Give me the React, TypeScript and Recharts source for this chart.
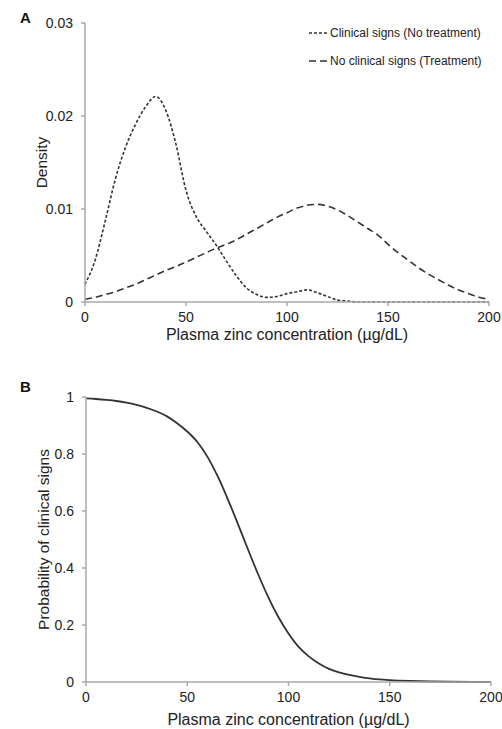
import { Legend, Line, LineChart, XAxis, YAxis } from "recharts";

// Panel A: density of plasma zinc (step 5 µg/dL)
const zincA = [
  0, 5, 10, 15, 20, 25, 30, 35, 40, 45, 50, 55, 60, 65, 70, 75, 80, 85, 90, 95,
  100, 105, 110, 115, 120, 125, 130, 135, 140, 145, 150, 155, 160, 165, 170,
  175, 180, 185, 190, 195, 200,
];
const clinicalSigns = [
  0.0019, 0.0045, 0.0087, 0.0132, 0.0166, 0.0191, 0.021, 0.0221, 0.0206,
  0.017, 0.012, 0.0092, 0.0076, 0.0061, 0.0044, 0.0028, 0.0015, 0.0008,
  0.0005, 0.0006, 0.0009, 0.0011, 0.0013, 0.001, 0.0006, 0.0002, 0.0001, 0, 0,
  0, 0, 0, 0, 0, 0, 0, 0, 0, 0, 0, 0,
];
const noClinicalSigns = [
  0.0003, 0.0005, 0.0008, 0.0011, 0.0015, 0.0019, 0.0024, 0.0029, 0.0034,
  0.0038, 0.0043, 0.0048, 0.0053, 0.0058, 0.0062, 0.0067, 0.0073, 0.0079,
  0.0085, 0.0091, 0.0096, 0.0101, 0.0104, 0.0105, 0.0103, 0.0099, 0.0093,
  0.0086, 0.0079, 0.0072, 0.0062, 0.0053, 0.0045, 0.0037, 0.003, 0.0024,
  0.0018, 0.0013, 0.0009, 0.0005, 0.0003,
];

// Panel B: probability of clinical signs
const zincB = [
  0, 5, 10, 15, 20, 25, 30, 35, 40, 45, 50, 55, 60, 65, 70, 75, 80, 85, 90, 95,
  100, 105, 110, 115, 120, 125, 130, 135, 140, 145, 150, 160, 170, 180, 190,
  200,
];
const probability = [
  0.995, 0.993, 0.99, 0.986, 0.98, 0.972, 0.962, 0.949, 0.932, 0.908, 0.879,
  0.842, 0.79, 0.722, 0.642, 0.555, 0.465, 0.378, 0.298, 0.228, 0.17, 0.123,
  0.09, 0.065, 0.046, 0.034, 0.025, 0.018, 0.013, 0.009, 0.0065, 0.0035,
  0.0018, 0.0009, 0.0004, 0.0002,
];

const xTicks = [0, 50, 100, 150, 200];
const densityTicks = [0, 0.01, 0.02, 0.03];
const probTicks = [0, 0.2, 0.4, 0.6, 0.8, 1];

const seriesA = [
  { key: "clinical", name: "Clinical signs (No treatment)", dash: "3 2" },
  { key: "noClinical", name: "No clinical signs (Treatment)", dash: "7 4" },
];

const dataA = zincA.map((zinc, i) => ({
  zinc,
  clinical: clinicalSigns[i],
  noClinical: noClinicalSigns[i],
}));
const dataB = zincB.map((zinc, i) => ({ zinc, prob: probability[i] }));

const FONT = "'Liberation Sans', Arial, sans-serif";
const INK = "#222";
const AXIS = "#aaa";
const LINE = "#333";

const tickStyle = { fontSize: 14, fill: INK, fontFamily: FONT };

function yTitle(text: string, x: number) {
  return ({ viewBox }: any) => {
    const cy = viewBox.y + viewBox.height / 2;
    return (
      <text
        x={x}
        y={cy}
        transform={`rotate(-90, ${x}, ${cy})`}
        textAnchor="middle"
        dominantBaseline="central"
        fontSize={15.5}
        fill={INK}
        fontFamily={FONT}
      >
        {text}
      </text>
    );
  };
}

function xTitle(text: string, dy: number) {
  return ({ viewBox }: any) => (
    <text
      x={viewBox.x + viewBox.width / 2}
      y={viewBox.y + dy}
      textAnchor="middle"
      dominantBaseline="central"
      fontSize={16}
      fill={INK}
      fontFamily={FONT}
    >
      {text}
    </text>
  );
}

function DensityLegend() {
  return (
    <div style={{ fontFamily: FONT, fontSize: 12, color: INK }}>
      {seriesA.map((s, i) => (
        <div
          key={s.key}
          style={{
            display: "flex",
            alignItems: "center",
            height: 14,
            marginTop: i === 0 ? 0 : 14,
            whiteSpace: "nowrap",
          }}
        >
          <svg width={19} height={6} style={{ marginRight: 2 }}>
            <line
              x1={0}
              y1={3}
              x2={19}
              y2={3}
              stroke={LINE}
              strokeWidth={1.5}
              strokeDasharray={s.dash}
            />
          </svg>
          <span>{s.name}</span>
        </div>
      ))}
    </div>
  );
}

const panelLetter = (top: number): React.CSSProperties => ({
  position: "absolute",
  left: 20,
  top,
  fontFamily: FONT,
  fontWeight: "bold",
  fontSize: 15,
  color: "#111",
});

export default function App() {
  return (
    <div
      style={{
        position: "absolute",
        left: 0,
        top: 0,
        width: 502,
        height: 729,
        background: "#fff",
      }}
    >
      <div style={panelLetter(9)}>A</div>
      <div style={panelLetter(378)}>B</div>

      <div style={{ position: "absolute", left: 0, top: 0 }}>
        <LineChart
          width={502}
          height={365}
          data={dataA}
          margin={{ top: 23, right: 13, left: 25, bottom: 0 }}
        >
          <XAxis
            dataKey="zinc"
            type="number"
            domain={[0, 200]}
            ticks={xTicks}
            height={63}
            tickSize={4}
            tickMargin={6}
            tick={tickStyle}
            stroke={AXIS}
            strokeWidth={1.5}
            interval={0}
            label={{ content: xTitle("Plasma zinc concentration (µg/dL)", 32) }}
          />
          <YAxis
            type="number"
            domain={[0, 0.03]}
            ticks={densityTicks}
            width={60}
            tickSize={4}
            tickMargin={8}
            tick={tickStyle}
            stroke={AXIS}
            strokeWidth={1.5}
            interval={0}
            label={{ content: yTitle("Density", 41) }}
          />
          <Legend
            layout="vertical"
            align="center"
            verticalAlign="middle"
            content={() => <DensityLegend />}
            wrapperStyle={{ position: "absolute", left: 309, top: 26, width: 193 }}
          />
          {seriesA.map((s) => (
            <Line
              key={s.key}
              type="monotone"
              dataKey={s.key}
              name={s.name}
              stroke={LINE}
              strokeWidth={1.6}
              strokeDasharray={s.dash}
              dot={false}
              isAnimationActive={false}
            />
          ))}
        </LineChart>
      </div>

      <div style={{ position: "absolute", left: 0, top: 370 }}>
        <LineChart
          width={502}
          height={359}
          data={dataB}
          margin={{ top: 27, right: 11, left: 26, bottom: 0 }}
        >
          <XAxis
            dataKey="zinc"
            type="number"
            domain={[0, 200]}
            ticks={xTicks}
            height={47}
            tickSize={4}
            tickMargin={6}
            tick={tickStyle}
            stroke={AXIS}
            strokeWidth={1.5}
            interval={0}
            label={{ content: xTitle("Plasma zinc concentration (µg/dL)", 37) }}
          />
          <YAxis
            type="number"
            domain={[0, 1]}
            ticks={probTicks}
            width={60}
            tickSize={4}
            tickMargin={8}
            tick={tickStyle}
            stroke={AXIS}
            strokeWidth={1.5}
            interval={0}
            label={{ content: yTitle("Probability of clinical signs", 43) }}
          />
          <Line
            type="monotone"
            dataKey="prob"
            name="Probability of clinical signs"
            stroke={LINE}
            strokeWidth={1.8}
            dot={false}
            isAnimationActive={false}
          />
        </LineChart>
      </div>
    </div>
  );
}
